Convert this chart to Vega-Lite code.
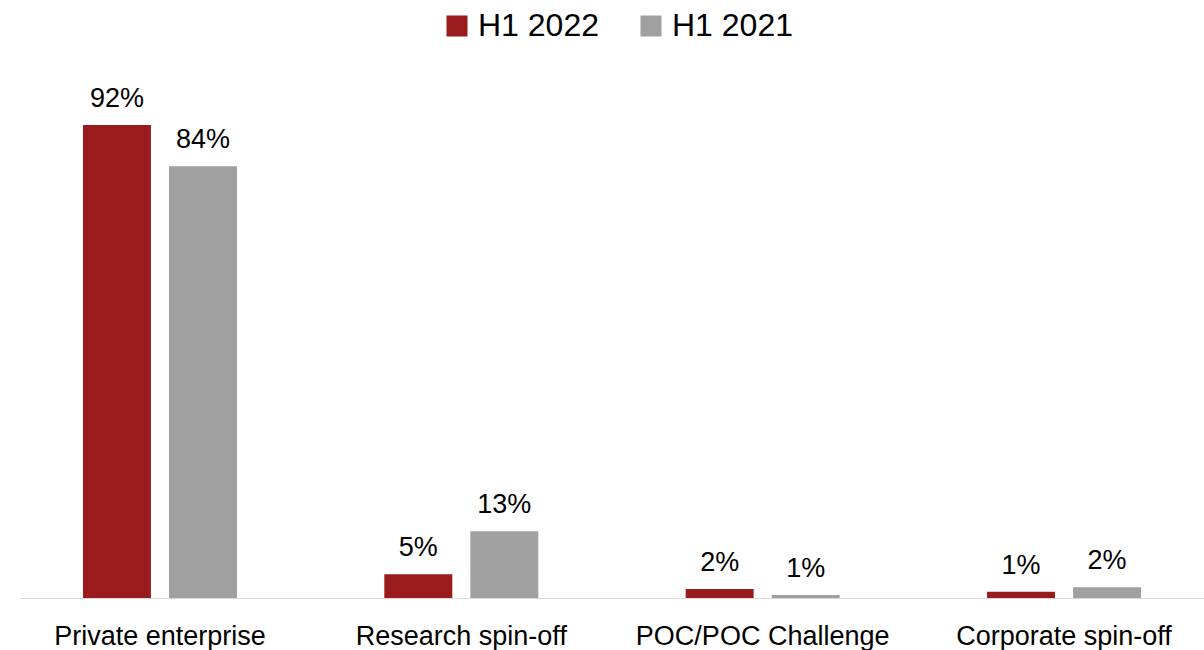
{
  "$schema": "https://vega.github.io/schema/vega-lite/v6.json",
  "autosize": "none",
  "width": 1184,
  "height": 514,
  "padding": {"left": 20, "top": 84, "right": 0, "bottom": 52},
  "background": "#ffffff",
  "config": {
    "view": {"stroke": null},
    "font": "Liberation Sans"
  },
  "data": {
    "values": [
      {"category": "Private enterprise", "period": "H1 2022", "share": 0.92},
      {"category": "Private enterprise", "period": "H1 2021", "share": 0.84},
      {"category": "Research spin-off", "period": "H1 2022", "share": 0.046},
      {"category": "Research spin-off", "period": "H1 2021", "share": 0.13},
      {"category": "POC/POC Challenge", "period": "H1 2022", "share": 0.0175},
      {"category": "POC/POC Challenge", "period": "H1 2021", "share": 0.006},
      {"category": "Corporate spin-off", "period": "H1 2022", "share": 0.012},
      {"category": "Corporate spin-off", "period": "H1 2021", "share": 0.021}
    ]
  },
  "encoding": {
    "x": {
      "field": "category",
      "type": "nominal",
      "sort": ["Private enterprise", "Research spin-off", "POC/POC Challenge", "Corporate spin-off"],
      "scale": {"paddingInner": 0.489, "paddingOuter": 0.209},
      "axis": {
        "title": null,
        "labelAngle": 0,
        "ticks": false,
        "domainColor": "#D9D9D9",
        "domainWidth": 1,
        "labelFontSize": 27,
        "labelColor": "#000000",
        "labelPadding": 25,
        "labelLimit": 0,
        "labelFont": "Liberation Sans"
      }
    },
    "xOffset": {
      "field": "period",
      "type": "nominal",
      "sort": ["H1 2022", "H1 2021"],
      "scale": {"paddingInner": 0.21, "paddingOuter": 0}
    },
    "y": {
      "field": "share",
      "type": "quantitative",
      "scale": {"domain": [0, 1]},
      "axis": null
    }
  },
  "layer": [
    {
      "mark": {"type": "bar"},
      "encoding": {
        "color": {
          "field": "period",
          "type": "nominal",
          "scale": {"domain": ["H1 2022", "H1 2021"], "range": ["#991B1E", "#A0A0A0"]},
          "legend": {
            "title": null,
            "orient": "none",
            "direction": "horizontal",
            "legendX": 421,
            "legendY": -74,
            "symbolType": "square",
            "symbolSize": 441,
            "symbolStrokeWidth": 0,
            "labelFontSize": 32,
            "labelColor": "#000000",
            "labelOffset": 5,
            "columnPadding": 36,
            "labelFont": "Liberation Sans"
          }
        }
      }
    },
    {
      "mark": {"type": "text", "baseline": "alphabetic", "dy": -18, "fontSize": 27, "color": "#000000"},
      "encoding": {
        "text": {"field": "share", "type": "quantitative", "format": ".0%"}
      }
    }
  ]
}
